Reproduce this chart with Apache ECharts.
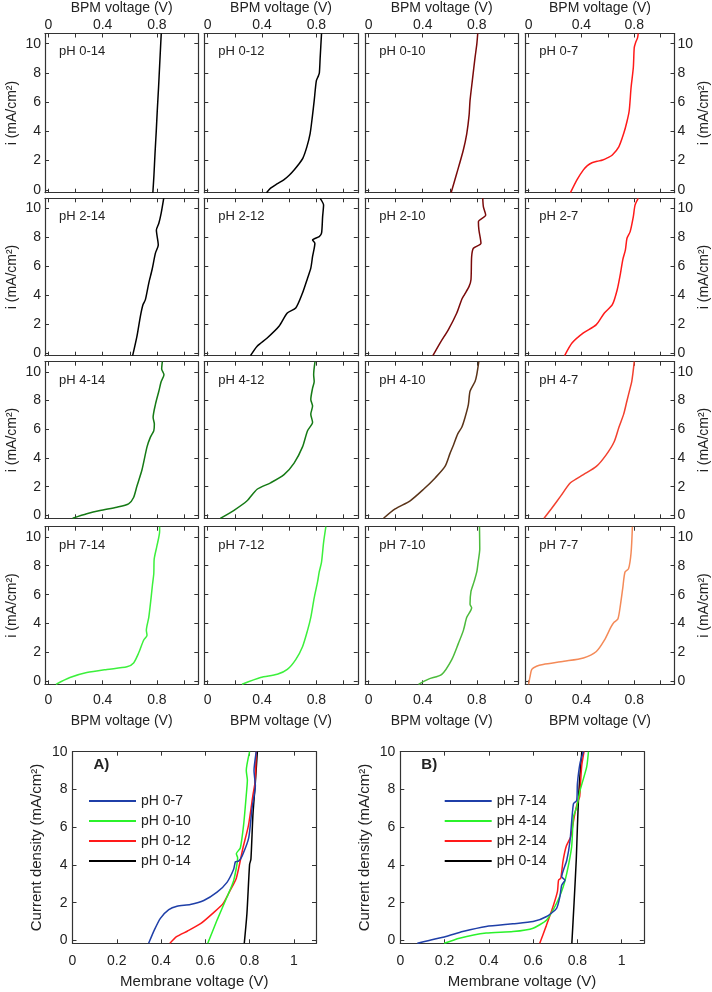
<!DOCTYPE html>
<html><head><meta charset="utf-8">
<script src="https://cdn.jsdelivr.net/npm/echarts@6/dist/echarts.min.js"></script>
<style>html,body{margin:0;padding:0;background:#fff}#c{width:712px;height:992px}</style>
</head><body><div id="c"></div>
<script>
// ---- tick labels ----
const gridXLabels = ['0', '0.4', '0.8'];
const gridYLabels = ['0', '2', '4', '6', '8', '10'];
const bigXLabels = ['0', '0.2', '0.4', '0.6', '0.8', '1'];
const bigYLabels = ['0', '2', '4', '6', '8', '10'];

// ---- panel names ----
const panelNames = ['pH 0-14', 'pH 0-12', 'pH 0-10', 'pH 0-7',
  'pH 2-14', 'pH 2-12', 'pH 2-10', 'pH 2-7',
  'pH 4-14', 'pH 4-12', 'pH 4-10', 'pH 4-7',
  'pH 7-14', 'pH 7-12', 'pH 7-10', 'pH 7-7'];

// ---- top grid data: [BPM voltage (V), i (mA/cm2)] ----
const ph0_14 = [[0.770,-0.2],[0.778,1],[0.786,2.5],[0.795,4],[0.803,5.5],[0.812,7],[0.820,8.5],[0.828,10],[0.832,10.7]];
const ph0_12 = [[0.433,-0.2],[0.463,0.11],[0.51,0.4],[0.56,0.68],[0.60,1.0],[0.636,1.36],[0.67,1.75],[0.70,2.15],[0.73,2.94],[0.754,3.85],[0.77,4.98],[0.784,6.1],[0.80,7.47],[0.815,7.8],[0.822,8.0],[0.828,9.05],[0.838,10.7]];
const ph0_10 = [[0.61,-0.2],[0.652,1.13],[0.70,2.71],[0.726,3.85],[0.743,5.09],[0.75,6.1],[0.767,7.47],[0.787,9.05],[0.80,9.95],[0.807,10.7]];
const ph0_7 = [[0.317,-0.2],[0.366,0.68],[0.415,1.36],[0.445,1.65],[0.48,1.85],[0.52,1.95],[0.561,2.04],[0.60,2.2],[0.634,2.38],[0.683,2.94],[0.72,3.85],[0.744,4.64],[0.762,5.43],[0.776,7.0],[0.793,8.37],[0.80,9.73],[0.81,10.07],[0.825,10.4],[0.83,10.7]];
const ph2_14 = [[0.621,-0.2],[0.653,1.15],[0.678,2.53],[0.697,3.33],[0.715,3.68],[0.74,4.83],[0.764,5.75],[0.789,6.9],[0.81,7.47],[0.796,8.5],[0.814,8.97],[0.831,9.66],[0.85,10.7]];
const ph2_12 = [[0.315,-0.2],[0.364,0.46],[0.438,1.03],[0.525,1.84],[0.586,2.76],[0.648,3.1],[0.698,4.14],[0.735,5.17],[0.759,5.86],[0.772,6.67],[0.789,7.59],[0.772,7.82],[0.821,8.05],[0.838,8.28],[0.846,9.43],[0.853,10.23],[0.828,10.7]];
const ph2_10 = [[0.475,-0.2],[0.529,0.69],[0.59,1.61],[0.652,2.76],[0.688,3.68],[0.708,4.02],[0.743,4.6],[0.757,5.06],[0.762,6.67],[0.775,7.24],[0.831,7.59],[0.816,8.5],[0.812,9.08],[0.866,9.54],[0.849,10.11],[0.844,10.7]];
const ph2_7 = [[0.273,-0.2],[0.33,0.69],[0.415,1.38],[0.513,1.95],[0.574,2.76],[0.634,3.33],[0.671,4.37],[0.696,5.52],[0.713,6.44],[0.733,7.13],[0.745,7.93],[0.769,8.39],[0.793,9.43],[0.806,10.23],[0.83,10.7]];
const ph4_14 = [[0.179,-0.2],[0.283,0.11],[0.381,0.34],[0.505,0.57],[0.591,0.8],[0.628,1.25],[0.653,2.05],[0.69,3.18],[0.727,4.77],[0.752,5.45],[0.777,5.9],[0.781,6.36],[0.772,6.82],[0.789,7.73],[0.814,8.64],[0.831,9.3],[0.852,9.8],[0.835,10.2],[0.84,10.7]];
const ph4_12 = [[0.093,-0.2],[0.191,0.34],[0.29,1.02],[0.364,1.82],[0.463,2.27],[0.562,2.84],[0.636,3.64],[0.698,4.77],[0.735,5.9],[0.772,6.48],[0.759,7.05],[0.772,7.61],[0.759,8.07],[0.772,8.86],[0.784,9.32],[0.78,9.8],[0.79,10.7]];
const ph4_10 = [[0.11,-0.2],[0.196,0.45],[0.307,1.02],[0.406,1.82],[0.492,2.61],[0.565,3.41],[0.602,4.32],[0.627,4.89],[0.659,5.68],[0.689,6.14],[0.713,6.82],[0.738,7.73],[0.75,8.64],[0.787,9.32],[0.80,9.8],[0.815,10.7]];
const ph4_7 = [[0.117,-0.2],[0.171,0.45],[0.244,1.36],[0.317,2.27],[0.415,2.84],[0.513,3.41],[0.586,4.2],[0.647,5.11],[0.684,6.14],[0.72,7.05],[0.744,7.95],[0.769,8.86],[0.781,9.32],[0.79,9.9],[0.80,10.7]];
const ph7_14 = [[0.056,-0.2],[0.159,0.27],[0.283,0.61],[0.431,0.83],[0.579,1.01],[0.628,1.28],[0.665,1.96],[0.702,2.85],[0.727,3.19],[0.722,3.53],[0.74,4.43],[0.757,5.78],[0.767,6.67],[0.777,7.46],[0.78,8.47],[0.80,9.37],[0.82,10.38],[0.82,10.7]];
const ph7_12 = [[0.253,-0.2],[0.389,0.27],[0.512,0.49],[0.586,0.83],[0.648,1.51],[0.698,2.4],[0.735,3.53],[0.759,4.43],[0.784,5.78],[0.809,6.9],[0.821,7.57],[0.838,8.25],[0.853,9.6],[0.87,10.7]];
const ph7_10 = [[0.369,-0.2],[0.443,0.16],[0.541,0.49],[0.615,1.51],[0.664,2.63],[0.701,3.53],[0.726,4.43],[0.762,5.1],[0.75,5.33],[0.757,6.22],[0.78,6.9],[0.80,7.57],[0.81,8.25],[0.822,9.15],[0.82,10.7]];
const ph7_7 = [[0.0,-0.2],[0.01,0.3],[0.024,0.83],[0.06,1.05],[0.11,1.17],[0.268,1.39],[0.415,1.62],[0.513,2.07],[0.574,2.85],[0.623,3.75],[0.647,4.09],[0.676,4.31],[0.696,5.33],[0.713,6.45],[0.73,7.57],[0.757,7.8],[0.776,8.9],[0.786,10.7]];

const panelData = [ph0_14, ph0_12, ph0_10, ph0_7, ph2_14, ph2_12, ph2_10, ph2_7,
  ph4_14, ph4_12, ph4_10, ph4_7, ph7_14, ph7_12, ph7_10, ph7_7];
const panelColors = ['#000000', '#000000', '#7a0a0a', '#ff1a1a',
  '#000000', '#000000', '#7a0a0a', '#ff1a1a',
  '#157a15', '#157a15', '#5a3318', '#f2402e',
  '#3cf03c', '#3cf03c', '#4cbb3c', '#f48a58'];

// ---- panel A data: [Membrane voltage (V), current density] ----
const aNames = ['pH 0-7', 'pH 0-10', 'pH 0-12', 'pH 0-14'];
const A_ph0_7 = [[0.344,-0.15],[0.37,0.56],[0.397,1.17],[0.435,1.63],[0.472,1.81],[0.532,1.91],[0.593,2.12],[0.653,2.56],[0.698,3.08],[0.728,3.77],[0.736,4.17],[0.75,4.2],[0.766,4.47],[0.796,5.43],[0.811,6.99],[0.826,8.2],[0.82,9],[0.83,10]];
const A_ph0_10 = [[0.611,-0.15],[0.653,1.08],[0.698,2.3],[0.728,3.17],[0.746,4.38],[0.74,4.6],[0.758,4.9],[0.773,6.12],[0.785,7.7],[0.79,8.5],[0.785,9],[0.80,10]];
const A_ph0_12 = [[0.44,-0.15],[0.47,0.2],[0.52,0.5],[0.58,0.9],[0.64,1.5],[0.68,1.95],[0.71,2.6],[0.74,3.3],[0.77,4.9],[0.795,6.1],[0.815,7.7],[0.825,8.4],[0.83,10]];
const A_ph0_14 = [[0.776,-0.15],[0.788,1.43],[0.80,4.03],[0.806,4.3],[0.815,6.64],[0.826,8.38],[0.835,10]];
const aData = [A_ph0_7, A_ph0_10, A_ph0_12, A_ph0_14];

// ---- panel B data ----
const bNames = ['pH 7-14', 'pH 4-14', 'pH 2-14', 'pH 0-14'];
const B_ph7_14 = [[0.077,-0.15],[0.13,0],[0.206,0.21],[0.282,0.47],[0.388,0.74],[0.509,0.88],[0.6,1.0],[0.661,1.27],[0.706,1.7],[0.721,2.32],[0.729,2.93],[0.744,3.2],[0.729,3.37],[0.752,4.25],[0.767,5.31],[0.782,7.24],[0.797,7.42],[0.8,8.3],[0.812,9.4],[0.827,10]];
const B_ph4_14 = [[0.198,-0.15],[0.267,0.12],[0.388,0.39],[0.509,0.47],[0.6,0.65],[0.661,1.09],[0.706,1.97],[0.736,2.85],[0.752,3.55],[0.774,4.96],[0.782,6.54],[0.797,7.07],[0.812,7.94],[0.842,9.2],[0.85,10]];
const B_ph2_14 = [[0.63,-0.15],[0.66,0.8],[0.69,1.8],[0.71,2.6],[0.715,3.2],[0.725,3.3],[0.735,4.2],[0.75,5.0],[0.77,5.5],[0.785,6.5],[0.80,7.3],[0.81,7.6],[0.815,8.5],[0.82,9.3],[0.83,10]];
const B_ph0_14 = [[0.775,-0.15],[0.785,2],[0.795,4.3],[0.80,6],[0.805,7.5],[0.81,8.5],[0.82,10]];
const bData = [B_ph7_14, B_ph4_14, B_ph2_14, B_ph0_14];
const abColors = ['#1f3fa8', '#2bf22b', '#ff1a1a', '#000000'];

// ---- layout ----
const colLeft = [45, 204.3, 365.3, 525.3];
const colWidth = [153.3, 153.5, 152.7, 152.7];
const rowTop = [33.3, 198.3, 361.7, 526.7];
const rowHeight = [159.4, 157.4, 156.6, 157.6];
const FONT = 'Liberation Sans, Arial, Helvetica, sans-serif';
const TXT = '#222';
const AX = '#333';

function fmt(v) { return String(Math.round(v * 1000) / 1000); }
function pick(list) { return function (v) { const s = fmt(v); return list.indexOf(s) >= 0 ? s : ''; }; }

const grid = [], xAxis = [], yAxis = [], series = [], title = [];

function addAxes(gi, opt) {
  const tick = { show: true, inside: true, length: 4, lineStyle: { color: AX, width: 1 } };
  const line = { show: true, onZero: false, lineStyle: { color: AX, width: 1.2 } };
  const base = { gridIndex: gi, type: 'value', splitLine: { show: false }, axisLine: line, axisTick: tick };
  ['bottom', 'top'].forEach(function (pos) {
    const showL = opt.xLabel[pos];
    xAxis.push(Object.assign({}, base, {
      position: pos, min: opt.xMin, max: opt.xMax, minInterval: opt.xInt, maxInterval: opt.xInt,
      axisLabel: { show: !!showL, formatter: pick(opt.xList), fontSize: opt.tickFont, color: TXT, fontFamily: FONT, margin: showL ? showL.margin : 8 },
      name: showL ? opt.xName : '', nameLocation: 'middle', nameGap: showL ? showL.nameGap : 0,
      nameTextStyle: { fontSize: opt.nameFont, color: TXT, fontFamily: FONT }
    }));
  });
  ['left', 'right'].forEach(function (pos) {
    const showL = opt.yLabel[pos];
    yAxis.push(Object.assign({}, base, {
      position: pos, min: opt.yMin, max: opt.yMax, minInterval: opt.yInt, maxInterval: opt.yInt,
      axisLabel: { show: !!showL, formatter: pick(opt.yList), fontSize: opt.tickFont, color: TXT, fontFamily: FONT, margin: showL ? showL.margin : 8 },
      name: showL ? opt.yName : '', nameLocation: 'middle', nameGap: showL ? showL.nameGap : 0, nameRotate: 90,
      nameTextStyle: { fontSize: opt.nameFont, color: TXT, fontFamily: FONT }
    }));
  });
}

// top 4x4 grid
for (let i = 0; i < 16; i++) {
  const r = Math.floor(i / 4), c = i % 4;
  const gi = grid.length;
  grid.push({ left: colLeft[c], top: rowTop[r], width: colWidth[c], height: rowHeight[r] });
  const xi = xAxis.length, yi = yAxis.length;
  addAxes(gi, {
    xMin: -0.025, xMax: 1.105, xInt: 0.2, xList: gridXLabels,
    yMin: -0.2, yMax: 10.7, yInt: 2, yList: gridYLabels,
    tickFont: 14, nameFont: 14,
    xName: 'BPM voltage (V)', yName: 'i (mA/cm²)',
    xLabel: { bottom: r === 3 ? { margin: 9, nameGap: 30 } : null, top: r === 0 ? { margin: 1.5, nameGap: 18.5 } : null },
    yLabel: { left: c === 0 ? { margin: 4, nameGap: 26 } : null, right: c === 3 ? { margin: 3, nameGap: 19 } : null }
  });
  series.push({
    type: 'line', xAxisIndex: xi, yAxisIndex: yi, data: panelData[i], symbol: 'none',
    smooth: 0.25, lineStyle: { color: panelColors[i], width: 1.5 }, itemStyle: { color: panelColors[i] },
    silent: true, z: 3
  });
  title.push({ text: panelNames[i], left: colLeft[c] + 14, top: rowTop[r] + 12, padding: 0,
    textStyle: { fontSize: 13, fontWeight: 'normal', color: TXT, fontFamily: FONT } });
}

// bottom panels A and B
const bigLeft = [72.5, 400.3];
const bigTop = 751.7, BW = 243.5, BH = 191.6;
[[aNames, aData], [bNames, bData]].forEach(function (pair, k) {
  const gi = grid.length;
  grid.push({ left: bigLeft[k], top: bigTop, width: BW, height: BH });
  const xi = xAxis.length, yi = yAxis.length;
  addAxes(gi, {
    xMin: 0, xMax: 1.1, xInt: 0.2, xList: bigXLabels,
    yMin: -0.15, yMax: 10, yInt: 2, yList: bigYLabels,
    tickFont: 14, nameFont: 15,
    xName: 'Membrane voltage (V)', yName: 'Current density (mA/cm²)',
    xLabel: { bottom: { margin: 11, nameGap: 31 }, top: null },
    yLabel: { left: { margin: 5, nameGap: 28 }, right: null }
  });
  pair[0].forEach(function (nm, j) {
    series.push({
      type: 'line', name: nm, xAxisIndex: xi, yAxisIndex: yi, data: pair[1][j], symbol: 'none',
      smooth: 0.2, lineStyle: { color: abColors[j], width: 1.5 }, itemStyle: { color: abColors[j] },
      silent: true, z: 3 + (3 - j)
    });
  });
  title.push({ text: k === 0 ? 'A)' : 'B)', left: bigLeft[k] + 21, top: bigTop + 6, padding: 0,
    textStyle: { fontSize: 15, fontWeight: 'bold', color: TXT, fontFamily: FONT } });
});

const legendBase = { orient: 'vertical', icon: 'rect', itemWidth: 47, itemHeight: 2, itemGap: 6, top: 794, padding: 0,
  selectedMode: false, textStyle: { fontSize: 14, lineHeight: 14, color: TXT, fontFamily: FONT } };

const chart = echarts.init(document.getElementById('c'), null, { renderer: 'canvas' });
chart.setOption({
  animation: false,
  backgroundColor: '#ffffff',
  textStyle: { fontFamily: FONT },
  title: title,
  legend: [Object.assign({}, legendBase, { data: aNames, left: 89 }),
           Object.assign({}, legendBase, { data: bNames, left: 444.7 })],
  grid: grid, xAxis: xAxis, yAxis: yAxis, series: series
});
</script></body></html>
